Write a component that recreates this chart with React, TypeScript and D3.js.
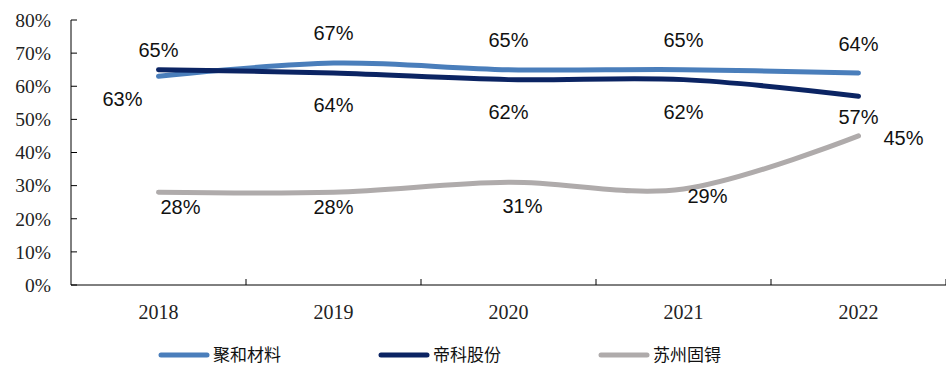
import React from "react";
import * as d3 from "d3";

const categories = ["2018", "2019", "2020", "2021", "2022"];
const seriesNames = ["聚和材料", "帝科股份", "苏州固锝"];
const juhe = [0.63, 0.67, 0.65, 0.65, 0.64];
const dike = [0.65, 0.64, 0.62, 0.62, 0.57];
const guji = [0.28, 0.28, 0.31, 0.29, 0.45];
const yTicks = [0, 0.1, 0.2, 0.3, 0.4, 0.5, 0.6, 0.7, 0.8];
const colors = ["#4A7EBB", "#0B2463", "#AFABAB"];

// label offsets (dx, dy) relative to point, per series
const labelOffsets = [
  [[-36, 23], [0, -30], [0, -30], [0, -30], [0, -29]],
  [[0, -20], [0, 32], [0, 32], [0, 32], [0, 21]],
  [[22, 15], [0, 15], [14, 24], [24, 7], [45, 2]],
];

export default function App() {
  const W = 946, H = 365;
  const left = 71, right = 946, top = 20, bottom = 285;
  const x = d3.scaleBand().domain(categories).range([left, right]);
  const y = d3.scaleLinear().domain([0, 0.8]).range([bottom, top]);
  const line = d3
    .line<number>()
    .x((_, i) => (x(categories[i]) as number) + x.bandwidth() / 2)
    .y((d) => y(d))
    .curve(d3.curveCardinal.tension(0));
  const data = [juhe, dike, guji];
  const fmt = d3.format(".0%");
  const legendX = [161, 381, 601];

  return (
    <svg width={W} height={H} style={{ position: "absolute", left: 0, top: 0 }}>
      <rect width={W} height={H} fill="#fff" />
      {/* y axis */}
      <line x1={left} x2={left} y1={top} y2={bottom} stroke="#000" strokeWidth={1} />
      {yTicks.map((t) => (
        <g key={t}>
          <line x1={left} x2={left + 6} y1={y(t)} y2={y(t)} stroke="#000" />
          <text
            x={51}
            y={y(t)}
            dy="0.35em"
            textAnchor="end"
            fontFamily="Liberation Serif"
            fontSize={19.5}
            fill="#222"
          >
            {fmt(t)}
          </text>
        </g>
      ))}
      {/* x axis */}
      <line x1={left} x2={right} y1={bottom} y2={bottom} stroke="#000" />
      {categories.map((c, i) => (
        <g key={c}>
          <line
            x1={(x(c) as number) + x.bandwidth()}
            x2={(x(c) as number) + x.bandwidth()}
            y1={bottom}
            y2={bottom - 6}
            stroke="#000"
          />
          <text
            x={(x(c) as number) + x.bandwidth() / 2}
            y={312}
            dy="0.35em"
            textAnchor="middle"
            fontFamily="Liberation Serif"
            fontSize={20}
            fill="#222"
          >
            {c}
          </text>
        </g>
      ))}
      {/* lines */}
      {[2, 0, 1].map((s) => (
        <path
          key={s}
          d={line(data[s]) || ""}
          fill="none"
          stroke={colors[s]}
          strokeWidth={5}
          strokeLinecap="round"
          strokeLinejoin="round"
        />
      ))}
      {/* labels */}
      {data.map((arr, s) =>
        arr.map((v, i) => (
          <text
            key={s + "-" + i}
            x={(x(categories[i]) as number) + x.bandwidth() / 2 + labelOffsets[s][i][0]}
            y={y(v) + labelOffsets[s][i][1]}
            dy="0.35em"
            textAnchor="middle"
            fontFamily="Liberation Sans"
            fontSize={20}
            fill="#111"
          >
            {fmt(v)}
          </text>
        ))
      )}
      {/* legend */}
      {seriesNames.map((n, s) => (
        <g key={n}>
          <line
            x1={legendX[s]}
            x2={legendX[s] + 46}
            y1={355}
            y2={355}
            stroke={colors[s]}
            strokeWidth={5}
            strokeLinecap="round"
          />
          <text
            x={legendX[s] + 52}
            y={355}
            dy="0.35em"
            fontFamily="Noto Sans CJK SC"
            fontSize={17}
            fill="#111"
          >
            {n}
          </text>
        </g>
      ))}
    </svg>
  );
}
